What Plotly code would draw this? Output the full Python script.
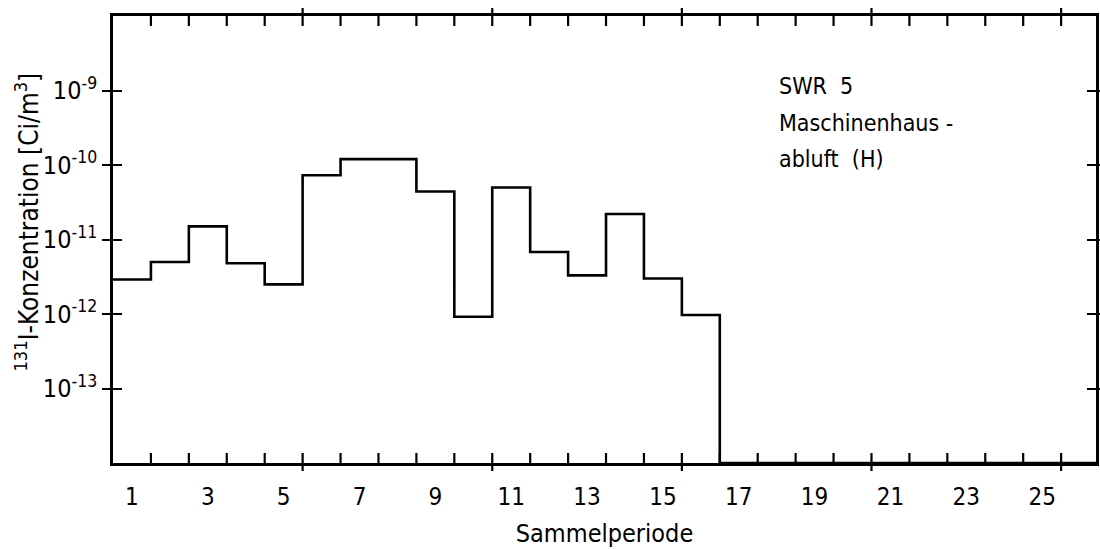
import plotly.graph_objects as go

# Sammelperioden und gemessene I-131-Konzentrationen (Ci/m^3)
periods = list(range(1, 27))
concentration = [
    2.9e-12, 5.0e-12, 1.5e-11, 4.8e-12, 2.5e-12, 7.3e-11, 1.2e-10, 1.2e-10,
    4.4e-11, 9.2e-13, 5.0e-11, 6.8e-12, 3.3e-12, 2.2e-11, 3.0e-12, 9.7e-13,
]
# Perioden 17-26: unterhalb des dargestellten Bereichs
below_range = 1e-14
concentration += [below_range] * (len(periods) - len(concentration))

x_labels = list(range(1, 27, 2))
y_ticks = [1e-9, 1e-10, 1e-11, 1e-12, 1e-13]
y_ticktext = ["10<sup>-9</sup>", "10<sup>-10</sup>", "10<sup>-11</sup>",
              "10<sup>-12</sup>", "10<sup>-13</sup>"]

x_range = [0.5, 26.42]
y_range = [-14, -8]

# Periodengrenzen (Teilstriche) und jede fünfte Grenze (durchgehende Striche)
boundaries = [p + 0.5 for p in periods[:-1]]
major_boundaries = [b for b in boundaries if (b - 0.5) % 5 == 0]

# Treppenkurve: jede Periode als waagrechte Stufe über ihre volle Breite
step_x = [p - 0.5 for p in periods] + [periods[-1] + 0.5]
step_y = concentration + [concentration[-1]]

FONT = "Liberation Sans Narrow, DejaVu Sans Condensed, Liberation Sans, sans-serif"
WIDTH, HEIGHT = 1100, 549
MARGIN = dict(l=113, r=4, t=16, b=86)
plot_h = HEIGHT - MARGIN["t"] - MARGIN["b"]

fig = go.Figure()
fig.add_trace(go.Scatter(
    x=step_x, y=step_y, mode="lines",
    line=dict(shape="hv", color="black", width=2.6),
    showlegend=False, hoverinfo="skip",
))
# leere Spur für die überlagerte y-Achse (Striche nach innen)
fig.add_trace(go.Scatter(x=[None], y=[None], xaxis="x", yaxis="y2",
                         showlegend=False, hoverinfo="skip"))

axis_line = dict(showline=True, linecolor="black", linewidth=2.6,
                 showgrid=False, zeroline=False, automargin=False)

fig.update_layout(
    width=WIDTH, height=HEIGHT, margin=MARGIN,
    paper_bgcolor="white", plot_bgcolor="white",
    font=dict(family=FONT, size=24, color="black"),
    xaxis=dict(
        range=x_range, tickmode="array", tickvals=x_labels,
        ticktext=[str(v) for v in x_labels],
        ticks="outside", ticklen=10, tickcolor="rgba(0,0,0,0)",
        mirror=True, tickfont=dict(size=24),
        title=dict(text="Sammelperiode", font=dict(size=25)),
        **axis_line,
    ),
    yaxis=dict(
        type="log", range=y_range, tickmode="array", tickvals=y_ticks,
        ticktext=y_ticktext, ticks="outside", ticklen=8, tickwidth=2,
        tickcolor="black", mirror="ticks", tickfont=dict(size=25),
        **axis_line,
    ),
    yaxis2=dict(
        type="log", overlaying="y", anchor="x", range=y_range,
        tickmode="array", tickvals=y_ticks, ticks="inside", ticklen=9,
        tickwidth=2, tickcolor="black", showticklabels=False,
        mirror="ticks", **axis_line,
    ),
)

# Teilung der Zeitachse oben und unten: Teilstriche an jeder Periodengrenze
# nach innen, an jeder fünften Grenze zusätzlich nach außen
tick_style = dict(type="line", xref="x", yref="paper",
                  line=dict(color="black", width=2.2), layer="above")
inner, outer = 10 / plot_h, 8 / plot_h
for b in boundaries:
    fig.add_shape(x0=b, x1=b, y0=1, y1=1 - inner, **tick_style)
    fig.add_shape(x0=b, x1=b, y0=0, y1=inner, **tick_style)
for b in major_boundaries:
    fig.add_shape(x0=b, x1=b, y0=1, y1=1 + outer, **tick_style)
    fig.add_shape(x0=b, x1=b, y0=0, y1=-outer, **tick_style)

# y-Achsentitel
fig.add_annotation(
    xref="paper", yref="paper", x=-0.087, y=0.539, textangle=-90,
    xanchor="center", yanchor="middle", showarrow=False,
    text="<sup>131</sup>I-Konzentration [Ci/m<sup>3</sup>]",
    font=dict(size=26, family=FONT),
)

# Beschriftung im Diagramm
for i, line in enumerate(["SWR  5", "Maschinenhaus -", "abluft  (H)"]):
    fig.add_annotation(
        xref="paper", yref="paper", x=0.675, y=0.843 - i * 0.082,
        xanchor="left", yanchor="middle", showarrow=False,
        text=line, font=dict(size=23, family=FONT),
    )

fig.write_html("out.html")
